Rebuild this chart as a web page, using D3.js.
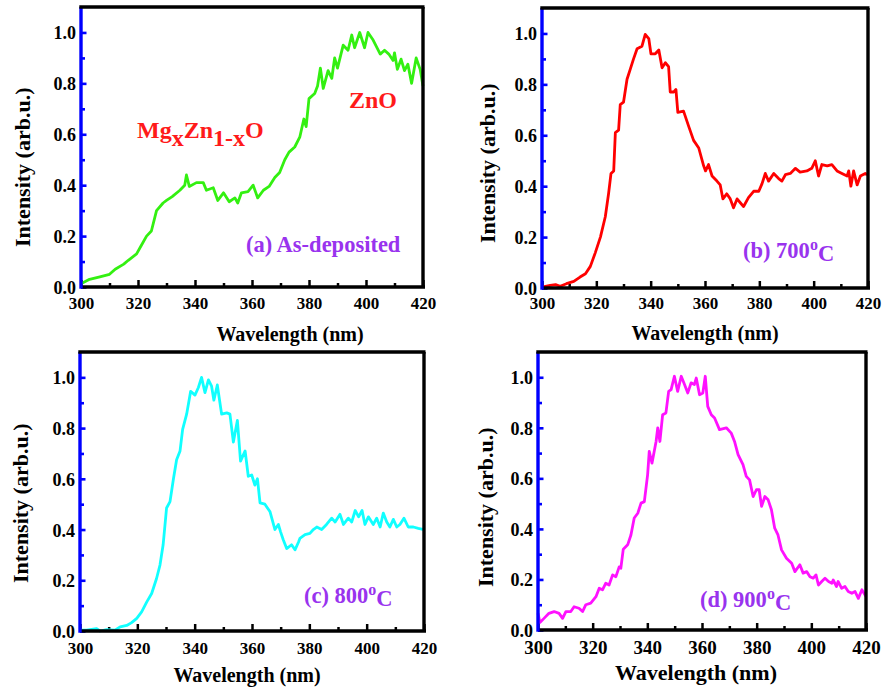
<!DOCTYPE html>
<html>
<head>
<meta charset="utf-8">
<script src="https://cdn.jsdelivr.net/npm/d3@7"></script>
<style>
    body { margin: 0; background: #fff; }
    #chart, #chart text { font-family: 'Liberation Serif', 'DejaVu Serif', 'Times New Roman', Times, serif; }
</style>
</head>
<body>
<svg id="chart" width="883" height="689" font-weight="bold"></svg>
<script>
// (a) as-deposited
const wlA = [300, 303, 306.6, 310, 312, 315, 316.6, 319.5, 321, 323, 324.7, 326.5, 328.8, 330, 332, 334.7, 336.4, 337, 338,
    340.5, 342.9, 344, 346.4, 348, 350, 352, 354, 355, 356.3, 358.6, 360.4, 362, 364, 366, 368, 369.7, 371.5, 373, 375,
    376.8, 378.2, 379, 380, 382, 383, 384, 385, 386.7, 388, 389, 390, 392, 393.7, 395, 396, 397.8, 399.5, 400.7, 402.5,
    405, 406.5, 408, 409.5, 410, 411, 412.3, 413.5, 414.7, 416, 417.6, 419, 420];
const intA = [0.013, 0.03, 0.04, 0.05, 0.07, 0.09, 0.105, 0.13, 0.16, 0.2, 0.22, 0.3, 0.33, 0.34, 0.355, 0.38, 0.4, 0.44, 0.395,
    0.41, 0.41, 0.38, 0.39, 0.34, 0.37, 0.335, 0.35, 0.33, 0.37, 0.375, 0.4, 0.35, 0.38, 0.395, 0.43, 0.45, 0.5, 0.53, 0.55,
    0.59, 0.66, 0.63, 0.74, 0.76, 0.79, 0.86, 0.78, 0.85, 0.82, 0.9, 0.86, 0.95, 0.93, 0.99, 0.94, 1.0, 0.94, 1.0, 0.97,
    0.915, 0.93, 0.915, 0.89, 0.92, 0.855, 0.895, 0.85, 0.875, 0.8, 0.9, 0.855, 0.79];

// (b) 700 C
const wlB = [300.4, 303, 305, 306.7, 309, 311.7, 314, 316, 317.8, 319.6, 321.5, 323.3, 324.5, 325.4, 326.4, 327, 328.2, 328.8,
    330, 331.3, 332.5, 333.7, 335, 336.8, 338, 339.3, 340.1, 341.7, 343, 344.2, 345.4, 346.6, 347.2, 348.5, 349.3, 350,
    352.1, 354, 355.8, 357.7, 359.5, 360.2, 361.3, 362.6, 364.4, 365.6, 366.6, 368, 369.3, 370.5, 371.8, 373, 374.2, 376,
    377.9, 379.8, 381, 382.2, 383.4, 385.3, 387.1, 388.3, 389.6, 391.4, 393.3, 395, 397.5, 399.3, 400.6, 401.8, 403, 405,
    406.7, 408.6, 410.4, 412.3, 412.9, 413.7, 414.7, 416, 417.2, 419, 420];
const intB = [0.004, 0.01, 0.013, 0.007, 0.017, 0.026, 0.043, 0.056, 0.085, 0.138, 0.2, 0.28, 0.37, 0.45, 0.46, 0.61, 0.62, 0.72,
    0.73, 0.82, 0.86, 0.9, 0.94, 0.95, 0.996, 0.98, 0.92, 0.92, 0.935, 0.865, 0.885, 0.87, 0.77, 0.77, 0.78, 0.69,
    0.695, 0.635, 0.58, 0.55, 0.48, 0.46, 0.485, 0.44, 0.42, 0.405, 0.35, 0.37, 0.35, 0.315, 0.35, 0.335, 0.32, 0.355,
    0.38, 0.38, 0.41, 0.45, 0.42, 0.45, 0.43, 0.42, 0.445, 0.45, 0.47, 0.455, 0.46, 0.47, 0.5, 0.44, 0.485, 0.48,
    0.485, 0.46, 0.45, 0.44, 0.46, 0.4, 0.46, 0.405, 0.44, 0.45, 0.445];

// (c) 800 C
const wlC = [300.3, 302.3, 305.8, 307, 309.3, 312.2, 314, 316.3, 318, 319.8, 321.5, 323.3, 325, 326.7, 327.9, 329, 330.2, 331.4,
    332.6, 333.7, 334.9, 335.8, 337.2, 338.6, 340.1, 341.3, 342.4, 343.6, 344.8, 345.9, 346.7, 347.9, 349.4, 351.2, 352.3,
    353.5, 354.9, 356, 357.6, 358.7, 359.9, 361, 361.9, 362.8, 364.5, 366.3, 368, 369.2, 370, 370.9, 372.1, 373.8, 375,
    376.2, 376.7, 378.5, 380.2, 381.4, 382.6, 384.3, 386, 387.8, 389, 390.7, 391.9, 393.6, 394.8, 396, 397.2, 398.4, 399.4,
    400.6, 402.3, 403.5, 404.7, 405.8, 407, 408.1, 409.3, 410.5, 411.6, 413, 414.5, 416.3, 418, 420];
const intC = [0.003, 0.003, 0.009, 0, 0.005, 0.003, 0.016, 0.022, 0.033, 0.05, 0.075, 0.115, 0.148, 0.207, 0.26, 0.34, 0.485, 0.51,
    0.6, 0.675, 0.71, 0.795, 0.855, 0.945, 0.93, 0.96, 1.0, 0.94, 0.99, 0.965, 0.91, 0.97, 0.855, 0.86, 0.855,
    0.745, 0.83, 0.67, 0.71, 0.61, 0.615, 0.575, 0.6, 0.505, 0.5, 0.47, 0.4, 0.42, 0.39, 0.36, 0.325, 0.34, 0.32,
    0.35, 0.365, 0.38, 0.385, 0.4, 0.41, 0.4, 0.42, 0.445, 0.43, 0.46, 0.42, 0.445, 0.43, 0.475, 0.45, 0.475, 0.42,
    0.45, 0.42, 0.445, 0.41, 0.465, 0.43, 0.41, 0.44, 0.41, 0.42, 0.445, 0.41, 0.41, 0.405, 0.4];

// (d) 900 C
const wlD = [300, 300.7, 302.2, 304, 305.9, 307.7, 309, 310.2, 312, 313.2, 315, 316.3, 317.5, 319.3, 321.2, 322.4, 323.6, 324.8,
    326, 327.3, 328.5, 329.7, 330.3, 331.2, 332.8, 334, 335.2, 336.5, 337.7, 338.9, 340.1, 340.7, 341.7, 343.2, 343.8,
    344.6, 345.6, 346.8, 347.8, 348.7, 349.9, 351.1, 352.4, 353.6, 354.8, 356, 357.2, 357.9, 359.1, 360.3, 361.2, 362.1,
    363.4, 364.6, 366.4, 368.9, 370.7, 371.9, 373.2, 375, 376.2, 377.4, 378.7, 379.9, 380.9, 381.8, 383, 384.2, 385.4,
    386.6, 387.8, 389.1, 390.9, 392.8, 394, 395.8, 397, 398.3, 399.5, 400.7, 401.7, 402.6, 403.8, 405, 406.3, 407.5, 408,
    409.2, 409.8, 411.1, 412.3, 413.5, 414.8, 416, 417.2, 418.5, 420];
const intD = [0.066, 0.03, 0.046, 0.066, 0.073, 0.066, 0.046, 0.073, 0.073, 0.092, 0.086, 0.073, 0.1, 0.106, 0.132, 0.165, 0.159, 0.185,
    0.178, 0.218, 0.211, 0.25, 0.244, 0.32, 0.337, 0.376, 0.443, 0.462, 0.502, 0.508, 0.614, 0.707, 0.66, 0.746, 0.8,
    0.746, 0.852, 0.859, 0.944, 0.951, 1.004, 0.944, 1.004, 0.971, 0.938, 0.978, 0.971, 0.997, 0.931, 0.938, 1.004, 0.885,
    0.852, 0.839, 0.793, 0.8, 0.779, 0.746, 0.694, 0.654, 0.608, 0.594, 0.528, 0.555, 0.555, 0.489, 0.528, 0.515, 0.476,
    0.403, 0.376, 0.317, 0.284, 0.264, 0.231, 0.258, 0.225, 0.231, 0.211, 0.205, 0.218, 0.178, 0.192, 0.205, 0.192, 0.185, 0.198,
    0.172, 0.192, 0.165, 0.172, 0.152, 0.145, 0.152, 0.125, 0.159, 0.132];

const xTicks = [300, 320, 340, 360, 380, 400, 420],
    xMinor = [310, 330, 350, 370, 390, 410],
    yTicks = [0, 0.2, 0.4, 0.6, 0.8, 1.0],
    yMinor = [0.1, 0.3, 0.5, 0.7, 0.9];

const xTitle = "Wavelength (nm)",
    yTitle = "Intensity (arb.u.)";

const labelColor = "#9933ee",
    noteColor = "#ff1a1a";

// panel boxes and text placement (y title pinned at its lower end)
const panels = [
    {wl: wlA, val: intA, color: "#33f011", box: [81, 423, 7, 287], yTitleAt: [22, 247], xTitleAt: [290, 341], xFont: 20, xPad: 10,
        label: ["(a) As-deposited"], labelAt: [246, 252]},
    {wl: wlB, val: intB, color: "#ff0000", box: [542, 868, 8, 288], yTitleAt: [487, 243], xTitleAt: [705, 340], xFont: 20, xPad: 9,
        label: ["(b) 700", "o", "C"], labelAt: [743, 258]},
    {wl: wlC, val: intC, color: "#11ffff", box: [80, 424, 352, 631], yTitleAt: [20, 583], xTitleAt: [247, 682], xFont: 20, xPad: 11,
        label: ["(c) 800", "o", "C"], labelAt: [304, 603]},
    {wl: wlD, val: intD, color: "#ff11ff", box: [538, 866, 352, 630], yTitleAt: [485, 587], xTitleAt: [696, 680], xFont: 22, xPad: 11,
        label: ["(d) 900", "o", "C"], labelAt: [700, 607], xTickFont: 19}
];

const svg = d3.select("#chart");
svg.append("rect").attr("width", 883).attr("height", 689).attr("fill", "#fff");

panels.forEach((p) => {
    const [left, right, top, bottom] = p.box;
    const x = d3.scaleLinear().domain([300, 420]).range([left, right]),
        y = d3.scaleLinear().domain([0, 1.1]).range([bottom, top]);
    const g = svg.append("g");

    // minor and major ticks, inward
    const bx = g.append("g").attr("transform", `translate(0,${y(0)})`);
    bx.append("g").call(d3.axisBottom(x).tickValues(xMinor).tickSize(-4).tickFormat(""));
    bx.append("g").call(d3.axisBottom(x).tickValues(xTicks).tickSize(-7).tickPadding(p.xPad).tickFormat(d3.format("d")));
    bx.selectAll(".domain").remove();
    bx.selectAll("line").attr("stroke", "#000").attr("stroke-width", 2.5);
    bx.selectAll("text").attr("fill", "#000").attr("font-size", p.xTickFont || 17);

    const ly = g.append("g").attr("transform", `translate(${x(300)},0)`);
    ly.append("g").call(d3.axisLeft(y).tickValues(yMinor).tickSize(-4).tickFormat(""));
    ly.append("g").call(d3.axisLeft(y).tickValues(yTicks).tickSize(-5.5).tickPadding(5).tickFormat(d3.format(".1f")));
    ly.selectAll(".domain").remove();
    ly.selectAll("line").attr("stroke", "#0000ff").attr("stroke-width", 2.6);
    ly.selectAll("text").attr("fill", "#000").attr("font-size", 18).attr("dy", "0.36em");

    // the spectrum
    const pts = d3.zip(p.wl, p.val);
    g.append("path")
        .datum(pts)
        .attr("fill", "none")
        .attr("stroke", p.color)
        .attr("stroke-width", 2.8)
        .attr("stroke-linejoin", "round")
        .attr("d", d3.line().x((d) => x(d[0])).y((d) => y(d[1])));

    // frame: bottom black, left blue, then top and right black
    g.append("line").attr("x1", x(300)).attr("x2", x(420) + 2).attr("y1", y(0)).attr("y2", y(0))
        .attr("stroke", "#000").attr("stroke-width", 3.6);
    g.append("line").attr("x1", x(300)).attr("x2", x(300)).attr("y1", y(0) + 1.8).attr("y2", y(1.1))
        .attr("stroke", "#0000ff").attr("stroke-width", 3.4);
    g.append("line").attr("x1", x(300) - 1.7).attr("x2", x(420) + 1.5).attr("y1", y(1.1)).attr("y2", y(1.1))
        .attr("stroke", "#000").attr("stroke-width", 3.4);
    g.append("line").attr("x1", x(420)).attr("x2", x(420)).attr("y1", y(1.1)).attr("y2", y(0))
        .attr("stroke", "#000").attr("stroke-width", 3.4);

    // axis titles
    g.append("text")
        .attr("transform", `translate(${p.yTitleAt[0]},${p.yTitleAt[1]}) rotate(-90)`)
        .attr("text-anchor", "start")
        .attr("dy", "0.35em")
        .attr("font-size", 22)
        .attr("fill", "#000")
        .text(yTitle);
    g.append("text")
        .attr("x", p.xTitleAt[0]).attr("y", p.xTitleAt[1])
        .attr("text-anchor", "middle")
        .attr("font-size", p.xFont)
        .attr("fill", "#000")
        .text(xTitle);

    // panel label
    const lab = g.append("text")
        .attr("x", p.labelAt[0]).attr("y", p.labelAt[1])
        .attr("font-size", 22.5)
        .attr("fill", labelColor);
    lab.append("tspan").text(p.label[0]);
    if(p.label.length > 1) {
        lab.append("tspan").attr("dy", "-0.5em").attr("font-size", 16).text(p.label[1]);
        lab.append("tspan").attr("dy", "0.5em").text(p.label[2]);
    }
});

// annotations in panel (a)
const notes = svg.append("g").attr("fill", noteColor).attr("font-size", 24);
notes.append("text").attr("x", 349).attr("y", 108).text("ZnO");
const mg = notes.append("text").attr("x", 137).attr("y", 138);
mg.append("tspan").text("Mg");
mg.append("tspan").attr("dy", "0.35em").text("x");
mg.append("tspan").attr("dy", "-0.35em").text("Zn");
mg.append("tspan").attr("dy", "0.35em").text("1-x");
mg.append("tspan").attr("dy", "-0.35em").text("O");
</script>
</body>
</html>
